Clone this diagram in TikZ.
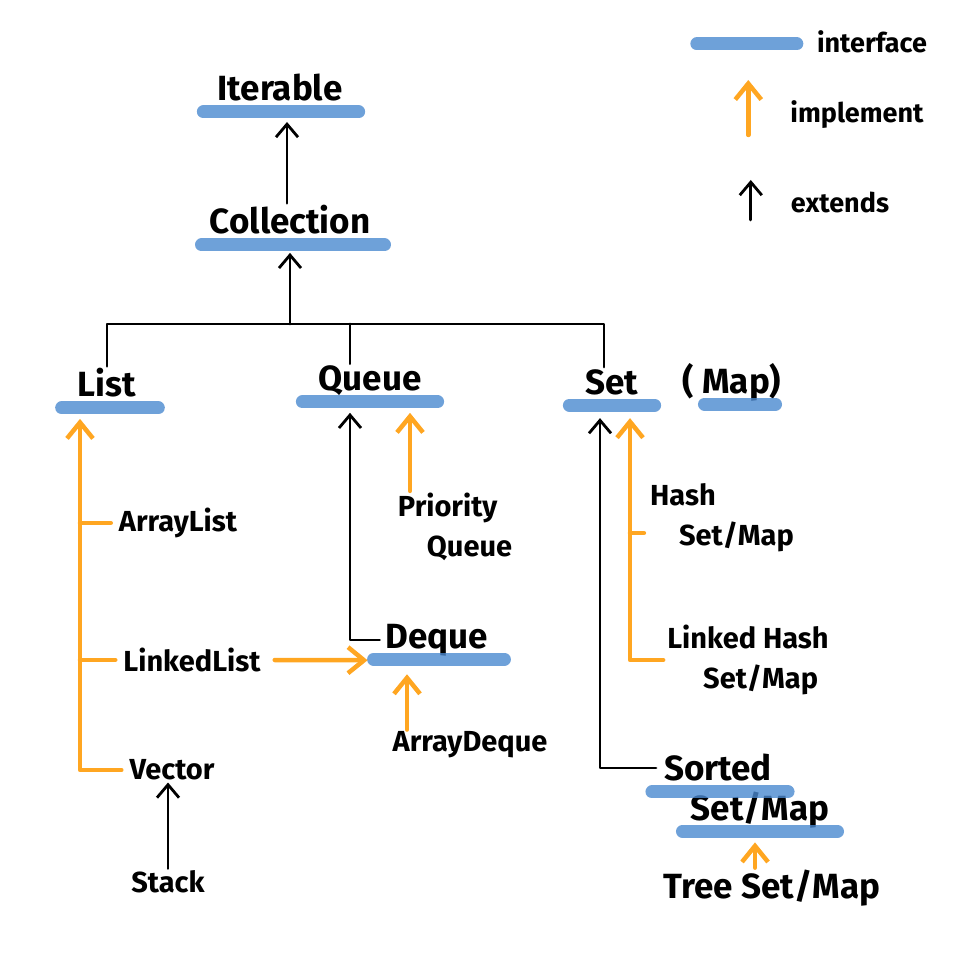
\documentclass[tikz,border=0pt]{standalone}
\usepackage{fontspec}
\setmainfont{Fira Sans}
\usetikzlibrary{arrows.meta}
\definecolor{ifblue}{RGB}{74,137,208}
\definecolor{implorange}{RGB}{255,166,33}

\begin{document}
\begin{tikzpicture}[x=1pt,y=-1pt]
\tikzstyle{every node}=[font=\fontsize{35}{40}\bfseries, inner sep=2pt]
\tikzstyle{small}=[font=\fontsize{29}{40}\bfseries, align=left]
\tikzstyle{legend}=[font=\fontsize{27}{32}\bfseries]
\tikzstyle{ifline}=[line width=13pt, ifblue, opacity=.8, line cap=round]
\tikzstyle{tree}=[line width=2.8pt, line cap=round, line join=round]
\tikzstyle{ext}=[tree, -{Straight Barb[length=13pt,width=22pt,line width=2.8pt]}]
\tikzstyle{impline}=[line width=4.5pt, implorange, line cap=round, line join=round]
\tikzstyle{imp}=[impline, -{Straight Barb[length=16pt,width=26pt,line width=4.5pt]}]
\useasboundingbox (0,0) rectangle (960,960);
% interfaces
\node (Iterable) at (280,88) {Iterable};
\node (Collection) at (290,220) {Collection};
\node (List) at (107,383) {List};
\node (Queue) at (370,381) {Queue};
\node (Set) at (612,382) {Set};
\node (Map) at (732,382) {( Map)};
\node (Deque) at (437,640) {Deque};
\node (Sorted) at (718,768) {Sorted};
\node (SortedSM) at (760,810) {Set/Map};
% classes
\node [small] (ArrayList) at (178,523) {ArrayList};
\node [small] (LinkedList) at (192,660) {LinkedList};
\node [small] (Vector) at (172,770) {Vector};
\node [small] (Stack) at (168,882) {Stack};
\node [small] (PQ) at (455,527) {Priority\\\quad Queue};
\node [small] (ArrayDeque) at (470,745) {ArrayDeque};
\node [small] (HashSM) at (722,518) {Hash\\\quad Set/Map};
\node [small] (LinkedHashSM) at (748,660) {Linked Hash\\\quad\ Set/Map};
\node (TreeSM) at (772,888) {Tree Set/Map};
% legend
\node [legend] (lgIface) at (872,42) {interface};
\node [legend] (lgImpl) at (857,115) {implement};
\node [legend] (lgExt) at (840,202) {extends};
% blue marks under interfaces
\foreach \n/\a/\b in {Iterable/12/14, Collection/6/12, List/14/20, Queue/14/14,
  Set/14/14, Map/-24/-8, Deque/10/14, Sorted/10/14, SortedSM/6/6}
  \draw [ifline] ([shift={(-\a pt,-11pt)}]\n.base west) -- ([shift={(\b pt,-11pt)}]\n.base east);
% tree
\coordinate (itTip) at ([yshift=-21pt]Iterable.base);
\coordinate (br) at (290,324);
\draw [ext] ([xshift=-3pt]Collection.north) -- ([xshift=-3pt]Collection.north |- itTip);
\draw [ext] (br) -- ([yshift=-19pt]Collection.base);
\draw [tree] (List.north) |- (br) -| ([xshift=-8pt]Set.north);
\draw [tree] ([xshift=-20pt]Queue.north) -- ([xshift=-20pt]Queue.north |- br);
% list
\coordinate (listTip) at ([shift={(-27pt,-22pt)}]List.base);
\draw [imp] ([xshift=-6pt]Vector.west) -| (listTip);
\draw [impline] ([xshift=-6pt]ArrayList.west) -- (ArrayList.west -| listTip);
\draw [impline] ([xshift=-6pt]LinkedList.west) -- (LinkedList.west -| listTip);
\draw [ext] (Stack.north) -- (Stack.north |- Vector.south);
% queue
\draw [ext] ([xshift=-4pt]Deque.west) -| ([shift={(-20pt,-22pt)}]Queue.base);
\draw [imp] ([xshift=40pt]Queue.base |- PQ.north) -- ([shift={(40pt,-22pt)}]Queue.base);
\draw [imp] ([xshift=-4pt]LinkedList.east) ++(16pt,0) -- ([shift={(-16pt,-12pt)}]Deque.base west);
\draw [imp] ([xshift=-30pt]Deque.base |- ArrayDeque.north) -- ([shift={(-30pt,-26pt)}]Deque.base);
% set
\coordinate (setTip) at ([shift={(18pt,-24pt)}]Set.base);
\draw [ext] ([xshift=-6pt]Sorted.west) -| ([shift={(-12pt,-24pt)}]Set.base);
\draw [imp] ([xshift=-2pt]LinkedHashSM.west) -| (setTip);
\draw [impline] ([shift={(-4pt,-15pt)}]HashSM.west) -- ([yshift=-15pt]HashSM.west -| setTip);
\draw [imp] ([xshift=-5pt]SortedSM.base |- TreeSM.north) -- ([shift={(-5pt,-22pt)}]SortedSM.base);
% legend marks
\draw [ifline] ([shift={(-18pt,-2pt)}]lgIface.west) -- ++(-100,0);
\draw [imp] ([shift={(-40pt,-20pt)}]lgImpl.west) -- ++(0,-55);
\draw [ext] ([shift={(-38pt,-18pt)}]lgExt.west) -- ++(0,-40);
\end{tikzpicture}
\end{document}
